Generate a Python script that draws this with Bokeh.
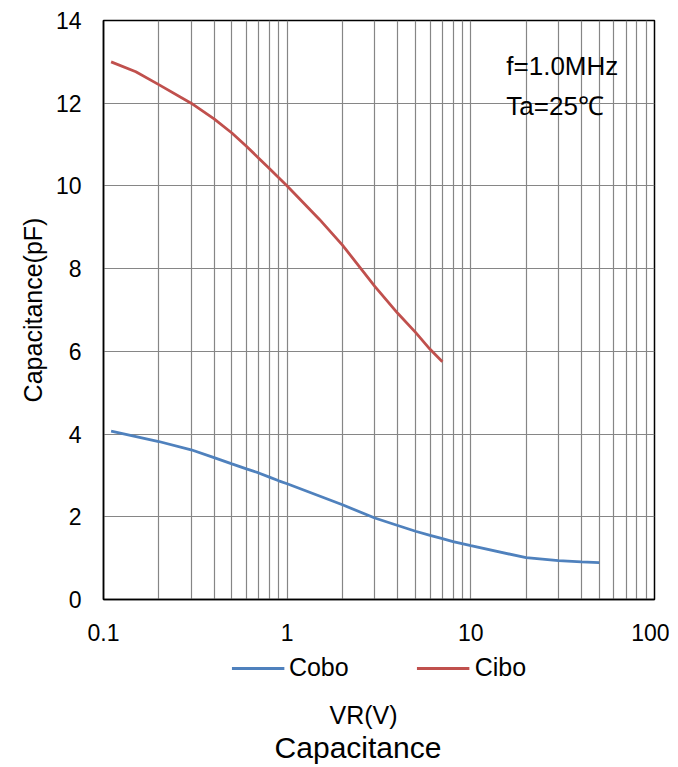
from bokeh.plotting import figure
from bokeh.layouts import column
from bokeh.models import (Range1d, FixedTicker, CustomJSTickFormatter, Legend, LegendItem, Label)
from bokeh.embed import file_html
from bokeh.resources import INLINE

# ---- data ----
vr_cobo = [0.11, 0.2, 0.3, 0.4, 0.5, 0.6, 0.7, 0.8, 0.9, 1, 2, 3, 4, 5, 6, 7, 8, 10, 20, 30, 40, 50]
cobo = [4.07, 3.82, 3.62, 3.43, 3.28, 3.16, 3.06, 2.96, 2.87, 2.80, 2.29, 1.97, 1.79, 1.65, 1.55,
        1.47, 1.40, 1.30, 1.01, 0.94, 0.91, 0.89]
vr_cibo = [0.11, 0.15, 0.2, 0.3, 0.4, 0.5, 0.6, 0.7, 0.8, 0.9, 1, 1.5, 2, 3, 4, 5, 6, 7]
cibo = [13.0, 12.76, 12.45, 12.0, 11.62, 11.28, 10.96, 10.67, 10.42, 10.20, 10.0, 9.19, 8.57,
        7.57, 6.92, 6.46, 6.05, 5.75]
x_major = [0.1, 1, 10, 100]
x_minor = [0.2, 0.3, 0.4, 0.5, 0.6, 0.7, 0.8, 0.9,
           2, 3, 4, 5, 6, 7, 8, 9,
           20, 30, 40, 50, 60, 70, 80, 90]
y_ticks = [0, 2, 4, 6, 8, 10, 12, 14]
notes = ["f=1.0MHz", "Ta=25℃"]
series_names = ["Cobo", "Cibo"]
x_title = "VR(V)"
chart_title = "Capacitance"

FONT = "Liberation Sans"
c_cobo = "#4F81BD"
c_cibo = "#C0504D"
LW = 2.8

# ---------------- main chart ----------------
p = figure(width=669, height=651, x_axis_type="log",
           x_range=Range1d(0.1, 100), y_range=Range1d(0, 14),
           output_backend="svg", toolbar_location=None, title_location=None,
           min_border_left=90, min_border_right=15, min_border_top=20,
           min_border_bottom=52)
p.background_fill_color = "white"
p.border_fill_color = "white"
p.outline_line_color = "black"
p.outline_line_width = 1.5

p.line(vr_cobo, cobo, line_color=c_cobo, line_width=LW)
p.line(vr_cibo, cibo, line_color=c_cibo, line_width=LW)

p.xaxis.ticker = FixedTicker(ticks=x_major, minor_ticks=x_minor)
p.xaxis.formatter = CustomJSTickFormatter(code="return tick.toString();")
p.yaxis.ticker = FixedTicker(ticks=y_ticks)
for ax in (p.xaxis, p.yaxis):
    ax.major_tick_line_color = None
    ax.minor_tick_line_color = None
    ax.major_tick_out = 0
    ax.major_tick_in = 0
    ax.minor_tick_out = 0
    ax.minor_tick_in = 0
    ax.axis_line_color = "black"
    ax.axis_line_width = 1.5
    ax.major_label_text_font = FONT
    ax.major_label_text_font_size = "23px"
    ax.major_label_text_color = "black"
    ax.axis_label_text_font = FONT
    ax.axis_label_text_font_size = "25px"
    ax.axis_label_text_font_style = "normal"
    ax.axis_label_text_color = "black"
p.yaxis.axis_label = "Capacitance(pF)"
p.yaxis.major_label_standoff = 22
p.yaxis.axis_label_standoff = 6
p.xaxis.major_label_standoff = 24

p.xgrid.ticker = p.xaxis.ticker
p.xgrid.grid_line_color = "#868686"
p.xgrid.grid_line_width = 1.2
p.xgrid.minor_grid_line_color = "#868686"
p.xgrid.minor_grid_line_width = 1.2
p.ygrid.ticker = p.yaxis.ticker
p.ygrid.grid_line_color = "#868686"
p.ygrid.grid_line_width = 1.2

p.add_layout(Label(x=15.6, y=12.89, text=notes[0], text_font=FONT, text_font_size="26px",
                   text_color="black", text_baseline="middle"))
p.add_layout(Label(x=15.6, y=11.94, text=notes[1], text_font=FONT, text_font_size="26px",
                   text_color="black", text_baseline="middle"))

# ---------------- legend strip + axis title + chart title ----------------
q = figure(width=669, height=114, x_axis_location=None, y_axis_location=None,
           x_axis_type="log", x_range=Range1d(1000, 2000), y_range=Range1d(-20, -10),
           output_backend="svg", toolbar_location=None, title_location=None,
           min_border_left=103, min_border_right=8, min_border_top=0,
           min_border_bottom=0)
q.grid.visible = False
q.outline_line_color = None
q.background_fill_color = "white"
q.border_fill_color = "white"
l1 = q.line(vr_cobo, cobo, line_color=c_cobo, line_width=LW)
l2 = q.line(vr_cibo, cibo, line_color=c_cibo, line_width=LW)

legend = Legend(items=[LegendItem(label=series_names[0], renderers=[l1]),
                       LegendItem(label=series_names[1], renderers=[l2])],
                orientation="horizontal", location="top_center",
                glyph_width=53, glyph_height=20, label_standoff=5, spacing=68,
                border_line_color=None, background_fill_alpha=0,
                label_text_font=FONT, label_text_font_size="25px",
                label_text_color="black", margin=2, padding=0)
q.add_layout(legend, "center")

q.add_layout(Label(x=260, y=51, x_units="screen", y_units="screen", text=x_title,
                   text_font=FONT, text_font_size="25px", text_color="black",
                   text_align="center", text_baseline="middle"))
q.add_layout(Label(x=254.5, y=18, x_units="screen", y_units="screen", text=chart_title,
                   text_font=FONT, text_font_size="30px", text_color="black",
                   text_align="center", text_baseline="middle"))

layout = column(p, q, spacing=0)
open("out.html", "w").write(file_html(layout, INLINE))
